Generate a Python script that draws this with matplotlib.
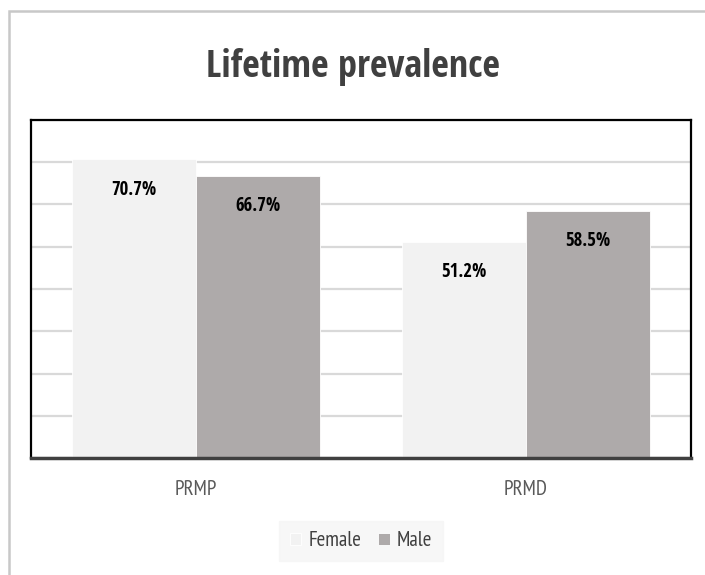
'''Grouped bar chart of lifetime prevalence by sex'''
import matplotlib
matplotlib.use('Agg')
import matplotlib.pyplot as plt
from matplotlib.patches import Rectangle
import numpy as np

categories = ['PRMP', 'PRMD']
series_names = ['Female', 'Male']
female_values = [70.7, 51.2]
male_values = [66.7, 58.5]
y_ticks = [0, 10, 20, 30, 40, 50, 60, 70, 80]

BOLD_FONT = ['Open Sans Condensed', 'DejaVu Sans']
LIGHT_FONT = ['PT Sans Narrow', 'DejaVu Sans']
plt.rcParams['font.family'] = BOLD_FONT

colors = {'Female': '#f2f2f2', 'Male': '#aeaaaa'}

fig = plt.figure(figsize=(7.05, 5.75), dpi=100)
ax = fig.add_axes([31 / 705, 1 - 458 / 575, 660 / 705, 338 / 575])

x = np.arange(len(categories))
width = 0.375
for offset, name, values in [(-width / 2, 'Female', female_values),
                             (width / 2, 'Male', male_values)]:
    bars = ax.bar(x + offset, values, width, color=colors[name],
                  edgecolor='white', linewidth=0.6, label=name, zorder=2)
    for bar, val in zip(bars, values):
        ax.annotate(f'{val}%', (bar.get_x() + bar.get_width() / 2, val),
                    xytext=(0, -20), textcoords='offset points',
                    ha='center', va='center_baseline', fontsize=13.5,
                    fontweight='bold', color='black', zorder=3)

ax.set_xlim(-0.5, 1.5)
ax.set_ylim(y_ticks[0], y_ticks[-1])
ax.set_yticks(y_ticks)
ax.set_yticklabels([])
ax.tick_params(axis='y', length=0)
ax.tick_params(axis='x', length=0, pad=16, labelcolor='#595959')
ax.set_xticks(x)
ax.set_xticklabels(categories, family=LIGHT_FONT, fontsize=15)
ax.grid(axis='y', color='#d9d9d9', linewidth=1.6, zorder=0)
ax.set_axisbelow(True)

for side in ['left', 'right', 'top']:
    ax.spines[side].set_color('black')
    ax.spines[side].set_linewidth(1.6)
ax.spines['bottom'].set_color('#404040')
ax.spines['bottom'].set_linewidth(2.5)

fig.text(0.5, 1 - 77 / 575, 'Lifetime prevalence', ha='center',
         va='baseline', fontsize=27.5, fontweight='bold', color='#404040')

leg = fig.legend(loc='center', bbox_to_anchor=(361 / 705, 1 - 541 / 575),
                 ncol=2, frameon=True, handlelength=0.55,
                 handleheight=0.55, handletextpad=0.35, columnspacing=0.8,
                 borderpad=0.5, borderaxespad=0, fancybox=False,
                 prop={'family': LIGHT_FONT, 'size': 15})
leg.get_frame().set_facecolor('#f5f5f5')
leg.get_frame().set_edgecolor('#f5f5f5')
for txt in leg.get_texts():
    txt.set_color('#404040')

# outer chart-area border along the top and left edges
fig.add_artist(Rectangle((9 / 705, -0.1), 1.2, 1 - 11 / 575 + 0.1,
                         transform=fig.transFigure, fill=False,
                         edgecolor='#c8c8c8', linewidth=1.8))

fig.savefig('out.png', dpi=100)
